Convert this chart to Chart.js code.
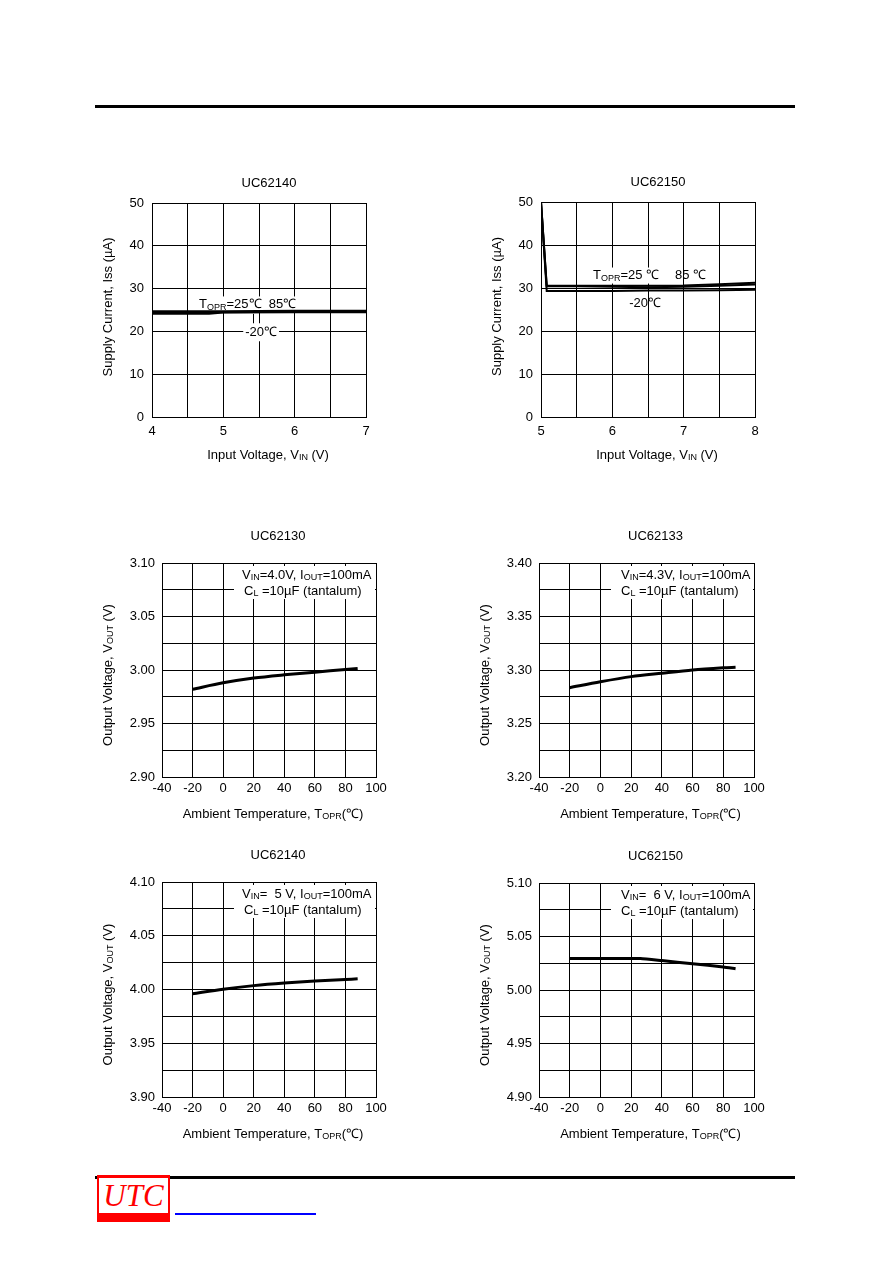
<!DOCTYPE html>
<html>
<head>
<meta charset="utf-8">
<script src="https://cdn.jsdelivr.net/npm/chart.js@4/dist/chart.umd.min.js"></script>
<style>
body{margin:0;background:#fff;}
#page{position:relative;width:892px;height:1263px;background:#fff;overflow:hidden;}
.rule{position:absolute;left:95px;width:700px;height:3px;background:#000;}
canvas{position:absolute;}
#logo{position:absolute;left:97px;top:1175px;width:73px;height:47px;background:#f00;}
#logo div{position:absolute;left:2px;top:3px;width:69px;height:35px;background:#fff;color:#f00;
  font:italic 31px "Liberation Serif";line-height:35px;text-align:center;}
#link{position:absolute;left:175px;top:1213px;width:141px;height:2px;background:#00f;}
</style>
</head>
<body>
<div id="page">
  <div class="rule" style="top:105px"></div>
  <div class="rule" style="top:1176px"></div>
  <div id="logo"><div>UTC</div></div>
  <div id="link"></div>
</div>
<script>
// supply current vs input voltage
const vinA = [4, 4.8, 5, 6, 7];
const iss62140At85 = [24.7, 24.7, 24.7, 24.8, 24.8];
const iss62140At25 = [24.5, 24.5, 24.5, 24.6, 24.6];
const iss62140AtM20 = [24.1, 24.1, 24.4, 24.5, 24.5];

const vinB = [5, 5.08, 5.5, 6, 6.5, 7, 7.5, 8];
const iss62150At85 = [50, 30.6, 30.5, 30.5, 30.5, 30.6, 30.9, 31.2];
const iss62150At25 = [50, 30.4, 30.4, 30.3, 30.2, 30.3, 30.5, 30.8];
const iss62150AtM20 = [50, 29.3, 29.3, 29.3, 29.4, 29.4, 29.5, 29.6];

// output voltage vs ambient temperature
const tempC = [-20, 0, 20, 40, 60, 80, 88];
const vout62130 = [2.982, 2.988, 2.9925, 2.9955, 2.998, 3.0005, 3.0015];
const vout62133 = [3.2835, 3.289, 3.2938, 3.297, 3.300, 3.302, 3.3025];
const vout62140 = [3.996, 4.0003, 4.0036, 4.006, 4.0078, 4.0092, 4.0099];
const tempC50 = [-20, 0, 20, 26, 40, 60, 80, 88];
const vout62150 = [5.0295, 5.0295, 5.0295, 5.0295, 5.0275, 5.0245, 5.0215, 5.0198];

const FONT = '"Liberation Sans", Arial, sans-serif';
const SIZE = 13;
Chart.defaults.font.family = FONT;
Chart.defaults.font.size = SIZE;
Chart.defaults.color = '#000';

function segFont(sub) { return (sub ? 9 : SIZE) + 'px ' + FONT; }
function richWidth(ctx, segs) {
  let w = 0;
  segs.forEach(s => { ctx.font = segFont(s[1]); w += ctx.measureText(s[0]).width; });
  return w;
}
function drawRich(ctx, segs, x, y, align) {
  const w = richWidth(ctx, segs);
  let cx = align === 'center' ? x - w / 2 : x;
  ctx.textAlign = 'left';
  ctx.textBaseline = 'middle';
  ctx.fillStyle = '#000';
  segs.forEach(s => {
    ctx.font = segFont(s[1]);
    ctx.fillText(s[0], cx, y + (s[1] ? 3 : 0));
    cx += ctx.measureText(s[0]).width;
  });
}

const extras = {
  id: 'extras',
  beforeDatasetsDraw(chart, args, o) {
    const ctx = chart.ctx, a = chart.chartArea;
    const xs = chart.scales.x, ys = chart.scales.y;
    ctx.save();
    ctx.fillStyle = '#fff';
    (o.boxes || []).forEach(b => ctx.fillRect(a.left + b[0], a.top + b[1], a.right + b[2] - a.left - b[0], b[3] - b[1]));
    (o.leads || []).forEach(l => {
      ctx.strokeStyle = '#000'; ctx.lineWidth = 1;
      ctx.beginPath();
      ctx.moveTo(Math.round(xs.getPixelForValue(l[0])) + 0.5, ys.getPixelForValue(l[1]));
      ctx.lineTo(Math.round(xs.getPixelForValue(l[2])) + 0.5, ys.getPixelForValue(l[3]));
      ctx.stroke();
    });
    (o.notes || []).forEach(n => {
      const px = n.dx !== undefined ? a.left + n.dx : xs.getPixelForValue(n.x);
      const py = n.dy !== undefined ? a.top + n.dy : ys.getPixelForValue(n.y);
      const w = richWidth(ctx, n.segs);
      const x0 = n.align === 'center' ? px - w / 2 : px;
      if (n.pad !== undefined) {
        ctx.fillStyle = '#fff';
        ctx.fillRect(x0 - n.pad, py - 7 - n.pad, w + 2 * n.pad, 14 + 2 * n.pad);
      }
      drawRich(ctx, n.segs, x0, py, 'left');
    });
    ctx.restore();
  },
  afterDraw(chart, args, o) {
    const ctx = chart.ctx, a = chart.chartArea;
    const mid = (a.left + a.right) / 2;
    ctx.save();
    ctx.font = SIZE + 'px ' + FONT;
    ctx.fillStyle = '#000';
    ctx.textAlign = 'center';
    ctx.textBaseline = 'middle';
    ctx.fillText(o.title, mid + o.tDx, a.top - o.tDy);
    drawRich(ctx, o.xTitle, mid + o.xDx, a.bottom + o.xDy, 'center');
    ctx.translate(a.left - o.yDx, (a.top + a.bottom) / 2 + o.yDy);
    ctx.rotate(-Math.PI / 2);
    drawRich(ctx, o.yTitle, 0, 0, 'center');
    ctx.restore();
  }
};

function build(g, c) {
  const YW = 66, RP = 22, XH = 50, TH = 36;
  const cv = document.createElement('canvas');
  cv.width = YW + g.W + RP;
  cv.height = TH + g.H + XH;
  cv.style.left = (g.L - YW) + 'px';
  cv.style.top = (g.T - TH) + 'px';
  document.getElementById('page').appendChild(cv);
  new Chart(cv, {
    type: 'line',
    data: {
      datasets: c.series.map(s => ({
        data: s.x.map((v, i) => ({ x: v, y: s.y[i] })),
        borderColor: '#000', borderWidth: s.w, pointRadius: 0,
        tension: s.t || 0, fill: false
      }))
    },
    options: {
      responsive: false, animation: false, devicePixelRatio: 1,
      layout: { padding: { left: 0, right: RP, top: TH, bottom: 0 } },
      plugins: {
        legend: { display: false }, tooltip: { enabled: false },
        extras: Object.assign({ title: c.title }, g.text, c.text)
      },
      scales: {
        x: {
          type: 'linear', min: c.x[0], max: c.x[1],
          ticks: { stepSize: c.x[2], autoSkip: false, maxRotation: 0, padding: g.xp, callback: c.xFmt },
          grid: { color: '#000', lineWidth: 1, drawTicks: false },
          border: { color: '#000', width: 1 },
          afterFit: s => { s.height = XH; }
        },
        y: {
          type: 'linear', min: c.y[0], max: c.y[1],
          ticks: { stepSize: c.y[2], autoSkip: false, padding: g.yp, callback: c.yFmt },
          grid: { color: '#000', lineWidth: 1, drawTicks: false },
          border: { color: '#000', width: 1 },
          afterFit: s => { s.width = YW; }
        }
      }
    },
    plugins: [extras]
  });
}

const intOnly = v => Number.isInteger(v) ? String(v) : '';
const every50m = v => Math.round(v * 1000) % 50 === 0 ? v.toFixed(2) : '';
const topText = { tDx: 10, tDy: 20, xDx: 9, xDy: 38, yDx: 44, yDy: -3,
  xTitle: [['Input Voltage, V'], ['IN', 1], [' (V)']],
  yTitle: [['Supply Current, Iss (µA)']] };
const lowText = { tDx: 9, tDy: 27, xDx: 4, xDy: 37, yDx: 54, yDy: 5,
  xTitle: [['Ambient Temperature, T'], ['OPR', 1], ['(℃)']],
  yTitle: [['Output Voltage, V'], ['OUT', 1], [' (V)']],
  boxes: [[72, 3, -1, 36]] };
const clLine = { dx: 82, dy: 28, segs: [['C'], ['L', 1], [' =10µF (tantalum)']] };

build({ L: 152, T: 203, W: 214, H: 214, xp: 7, yp: 8, text: topText }, {
  title: 'UC62140', x: [4, 7, 0.5], y: [0, 50, 10], xFmt: intOnly,
  series: [
    { x: vinA, y: iss62140At85, w: 2 },
    { x: vinA, y: iss62140At25, w: 2 },
    { x: vinA, y: iss62140AtM20, w: 2 }
  ],
  text: {
    notes: [
      { x: 4.66, y: 26.3, pad: 1, segs: [['T'], ['OPR', 1], ['=25℃  85℃']] },
      { x: 5.53, y: 19.8, pad: 2, align: 'center', segs: [['-20℃']] }
    ],
    leads: [[5.41, 21.6, 5.41, 24.1]]
  }
});

build({ L: 541, T: 202, W: 214, H: 215, xp: 7, yp: 8, text: topText }, {
  title: 'UC62150', x: [5, 8, 0.5], y: [0, 50, 10], xFmt: intOnly,
  series: [
    { x: vinB, y: iss62150At85, w: 2 },
    { x: vinB, y: iss62150At25, w: 2 },
    { x: vinB, y: iss62150AtM20, w: 2 }
  ],
  text: {
    notes: [
      { x: 5.73, y: 32.9, pad: 1, segs: [['T'], ['OPR', 1], ['=25 ℃']] },
      { x: 6.88, y: 32.9, segs: [['85 ℃']] },
      { x: 6.46, y: 26.5, align: 'center', segs: [['-20℃']] }
    ]
  }
});

build({ L: 162, T: 563, W: 214, H: 214, xp: 4, yp: 7, text: lowText }, {
  title: 'UC62130', x: [-40, 100, 20], y: [2.9, 3.1, 0.025], yFmt: every50m,
  series: [{ x: tempC, y: vout62130, w: 3, t: 0.3 }],
  text: { notes: [{ dx: 80, dy: 12, segs: [['V'], ['IN', 1], ['=4.0V, I'], ['OUT', 1], ['=100mA']] }, clLine] }
});

build({ L: 539, T: 563, W: 215, H: 214, xp: 4, yp: 7, text: lowText }, {
  title: 'UC62133', x: [-40, 100, 20], y: [3.2, 3.4, 0.025], yFmt: every50m,
  series: [{ x: tempC, y: vout62133, w: 3, t: 0.3 }],
  text: { notes: [{ dx: 82, dy: 12, segs: [['V'], ['IN', 1], ['=4.3V, I'], ['OUT', 1], ['=100mA']] }, clLine] }
});

build({ L: 162, T: 882, W: 214, H: 215, xp: 4, yp: 7, text: lowText }, {
  title: 'UC62140', x: [-40, 100, 20], y: [3.9, 4.1, 0.025], yFmt: every50m,
  series: [{ x: tempC, y: vout62140, w: 3, t: 0.3 }],
  text: { notes: [{ dx: 80, dy: 12, segs: [['V'], ['IN', 1], ['=  5 V, I'], ['OUT', 1], ['=100mA']] }, clLine] }
});

build({ L: 539, T: 883, W: 215, H: 214, xp: 4, yp: 7, text: lowText }, {
  title: 'UC62150', x: [-40, 100, 20], y: [4.9, 5.1, 0.025], yFmt: every50m,
  series: [{ x: tempC50, y: vout62150, w: 3, t: 0.2 }],
  text: { notes: [{ dx: 82, dy: 12, segs: [['V'], ['IN', 1], ['=  6 V, I'], ['OUT', 1], ['=100mA']] }, clLine] }
});
</script>
</body>
</html>
